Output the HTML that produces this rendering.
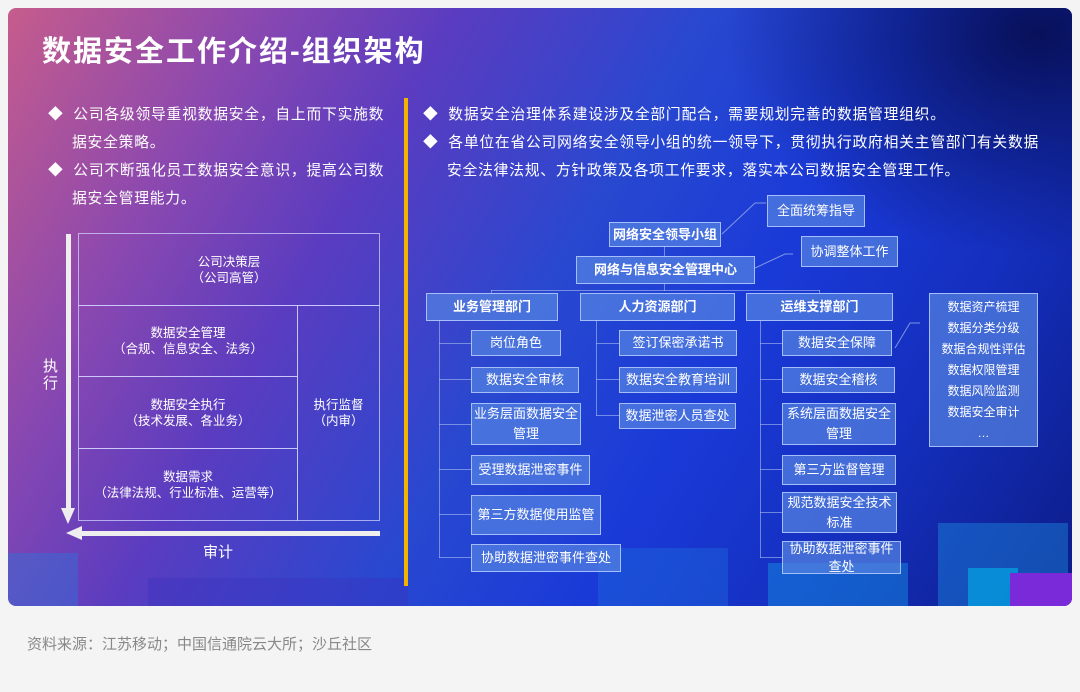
<!DOCTYPE html>
<html><head><meta charset="utf-8"><style>
*{margin:0;padding:0;box-sizing:border-box}
body{width:1080px;height:692px;background:#f4f4f4;font-family:"Liberation Sans","Noto Sans CJK SC",sans-serif;position:relative;overflow:hidden}
#p{position:absolute;left:8px;top:8px;width:1064px;height:598px;border-radius:8px;overflow:hidden;
background:linear-gradient(120deg,#c65c8c 0%,#8a48b0 18%,#5a3cc0 32%,#2848d0 50%,#1a3ad8 65%,#1530c0 80%,#0c1c88 100%)}
#p:after{content:"";position:absolute;right:0;top:0;width:350px;height:250px;background:radial-gradient(ellipse at 90% 10%,rgba(5,10,70,.85),rgba(5,10,70,0) 70%)}
.a{position:absolute}
.t{color:#fff;font-size:14.8px;line-height:28px;letter-spacing:0.75px;white-space:nowrap}
.b{position:absolute;background:rgba(85,130,225,.72);border:1.5px solid rgba(190,210,255,.8);color:#fff;font-size:13px;text-align:center;display:flex;align-items:center;justify-content:center;line-height:20px;z-index:2}
.h{font-weight:bold}
.l{position:absolute;background:rgba(170,190,240,.6);z-index:1}
.sq{position:absolute;}
.cell{position:absolute;border:1px solid rgba(210,210,255,.75);color:#fff;font-size:12.5px;text-align:center;display:flex;align-items:center;justify-content:center;line-height:16px}
</style></head><body>
<div id="p">
<div class="sq" style="left:0;top:545px;width:70px;height:53px;background:rgba(40,120,220,.4)"></div>
<div class="sq" style="left:140px;top:570px;width:260px;height:28px;background:rgba(60,50,190,.4)"></div>
<div class="sq" style="left:590px;top:540px;width:130px;height:58px;background:rgba(30,110,220,.4)"></div>
<div class="sq" style="left:760px;top:555px;width:140px;height:43px;background:rgba(20,140,225,.5)"></div>
<div class="sq" style="left:930px;top:515px;width:130px;height:83px;background:rgba(30,150,230,.4)"></div>
<div class="sq" style="left:960px;top:560px;width:50px;height:38px;background:rgba(0,180,235,.6)"></div>
<div class="sq" style="left:1002px;top:565px;width:62px;height:33px;background:#7a2ad8"></div>
</div>
<div class="a" style="left:42px;top:28px;color:#fff;font-size:29px;font-weight:bold;letter-spacing:2px">数据安全工作介绍-组织架构</div>
<div class="a t" style="left:48px;top:101px;width:360px">
<div style="padding-left:24px;text-indent:-24px">◆&nbsp;&nbsp;公司各级领导重视数据安全，自上而下实施数<br>据安全策略。</div>
<div style="padding-left:24px;text-indent:-24px">◆&nbsp;&nbsp;公司不断强化员工数据安全意识，提高公司数<br>据安全管理能力。</div>
</div>
<div class="a" style="left:404px;top:98px;width:4px;height:488px;background:#f2b400"></div>
<div class="a t" style="left:423px;top:101px;width:640px">
<div style="padding-left:24px;text-indent:-24px">◆&nbsp;&nbsp;数据安全治理体系建设涉及全部门配合，需要规划完善的数据管理组织。</div>
<div style="padding-left:24px;text-indent:-24px">◆&nbsp;&nbsp;各单位在省公司网络安全领导小组的统一领导下，贯彻执行政府相关主管部门有关数据<br>安全法律法规、方针政策及各项工作要求，落实本公司数据安全管理工作。</div>
</div>
<div class="cell" style="left:78px;top:233px;width:302px;height:73px">公司决策层<br>（公司高管）</div>
<div class="cell" style="left:78px;top:305px;width:220px;height:72px">数据安全管理<br>（合规、信息安全、法务）</div>
<div class="cell" style="left:78px;top:376px;width:220px;height:73px">数据安全执行<br>（技术发展、各业务）</div>
<div class="cell" style="left:78px;top:448px;width:220px;height:73px">数据需求<br>（法律法规、行业标准、运营等）</div>
<div class="cell" style="left:297px;top:305px;width:83px;height:216px">执行监督<br>（内审）</div>
<div class="a" style="left:66px;top:234px;width:5px;height:278px;background:#eee"></div>
<div class="a" style="left:61px;top:508px;width:0;height:0;border-left:7.5px solid transparent;border-right:7.5px solid transparent;border-top:16px solid #eee"></div>
<div class="a" style="left:80px;top:531px;width:300px;height:5px;background:#eee"></div>
<div class="a" style="left:66px;top:526px;width:0;height:0;border-top:7.5px solid transparent;border-bottom:7.5px solid transparent;border-right:16px solid #eee"></div>
<div class="a" style="left:43px;top:358px;color:#fff;font-size:15px;width:16px;line-height:17px">执行</div>
<div class="a" style="left:203px;top:541px;color:#fff;font-size:15px">审计</div>
<div class="l" style="left:664px;top:246px;width:1px;height:11px"></div>
<div class="l" style="left:664px;top:283px;width:1px;height:8px"></div>
<div class="l" style="left:491px;top:290px;width:329px;height:1px"></div>
<div class="l" style="left:491px;top:290px;width:1px;height:4px"></div>
<div class="l" style="left:819px;top:290px;width:1px;height:4px"></div>
<div class="l" style="left:439px;top:320px;width:1px;height:238px"></div>
<div class="l" style="left:596px;top:320px;width:1px;height:96px"></div>
<div class="l" style="left:760px;top:320px;width:1px;height:238px"></div>
<div class="l" style="left:439px;top:343px;width:33px;height:1px"></div>
<div class="l" style="left:439px;top:379px;width:33px;height:1px"></div>
<div class="l" style="left:439px;top:424px;width:33px;height:1px"></div>
<div class="l" style="left:439px;top:469px;width:33px;height:1px"></div>
<div class="l" style="left:439px;top:514px;width:33px;height:1px"></div>
<div class="l" style="left:439px;top:557px;width:33px;height:1px"></div>
<div class="l" style="left:596px;top:343px;width:24px;height:1px"></div>
<div class="l" style="left:596px;top:379px;width:24px;height:1px"></div>
<div class="l" style="left:596px;top:415px;width:24px;height:1px"></div>
<div class="l" style="left:760px;top:343px;width:23px;height:1px"></div>
<div class="l" style="left:760px;top:379px;width:23px;height:1px"></div>
<div class="l" style="left:760px;top:424px;width:23px;height:1px"></div>
<div class="l" style="left:760px;top:469px;width:23px;height:1px"></div>
<div class="l" style="left:760px;top:512px;width:23px;height:1px"></div>
<div class="l" style="left:760px;top:557px;width:23px;height:1px"></div>
<svg class="a" style="left:0;top:0;z-index:1" width="1080" height="692"><g stroke="rgba(170,190,240,.7)" fill="none" stroke-width="1">
<polyline points="722,234 755,203 766,203"/><polyline points="755,268 785,254 793,254"/><polyline points="895,348 910,323 920,323"/></g></svg>
<div class="b h" style="left:609px;top:222px;width:112px;height:25px">网络安全领导小组</div>
<div class="b" style="left:767px;top:195px;width:98px;height:32px">全面统筹指导</div>
<div class="b h" style="left:576px;top:256px;width:179px;height:28px">网络与信息安全管理中心</div>
<div class="b" style="left:801px;top:236px;width:97px;height:31px">协调整体工作</div>
<div class="b h" style="left:426px;top:293px;width:132px;height:28px">业务管理部门</div>
<div class="b h" style="left:580px;top:293px;width:155px;height:28px">人力资源部门</div>
<div class="b h" style="left:746px;top:293px;width:147px;height:28px">运维支撑部门</div>
<div class="b" style="left:929px;top:293px;width:109px;height:154px;font-size:12px;line-height:21px;flex-direction:column">数据资产梳理<br>数据分类分级<br>数据合规性评估<br>数据权限管理<br>数据风险监测<br>数据安全审计<br>…</div>
<div class="b" style="left:471px;top:330px;width:90px;height:26px">岗位角色</div>
<div class="b" style="left:471px;top:367px;width:108px;height:26px">数据安全审核</div>
<div class="b" style="left:471px;top:403px;width:110px;height:42px">业务层面数据安全<br>管理</div>
<div class="b" style="left:471px;top:455px;width:119px;height:30px">受理数据泄密事件</div>
<div class="b" style="left:471px;top:495px;width:130px;height:40px">第三方数据使用监管</div>
<div class="b" style="left:471px;top:544px;width:150px;height:28px">协助数据泄密事件查处</div>
<div class="b" style="left:619px;top:330px;width:118px;height:26px">签订保密承诺书</div>
<div class="b" style="left:619px;top:367px;width:118px;height:26px">数据安全教育培训</div>
<div class="b" style="left:619px;top:403px;width:117px;height:26px">数据泄密人员查处</div>
<div class="b" style="left:782px;top:330px;width:110px;height:26px">数据安全保障</div>
<div class="b" style="left:782px;top:367px;width:113px;height:26px">数据安全稽核</div>
<div class="b" style="left:782px;top:403px;width:114px;height:42px">系统层面数据安全<br>管理</div>
<div class="b" style="left:782px;top:455px;width:114px;height:30px">第三方监督管理</div>
<div class="b" style="left:782px;top:492px;width:115px;height:41px">规范数据安全技术<br>标准</div>
<div class="b" style="left:782px;top:541px;width:119px;height:33px;line-height:18px">协助数据泄密事件<br>查处</div>
<div class="a" style="left:27px;top:633px;color:#888;font-size:15px">资料来源：江苏移动；中国信通院云大所；沙丘社区</div>
</body></html>
